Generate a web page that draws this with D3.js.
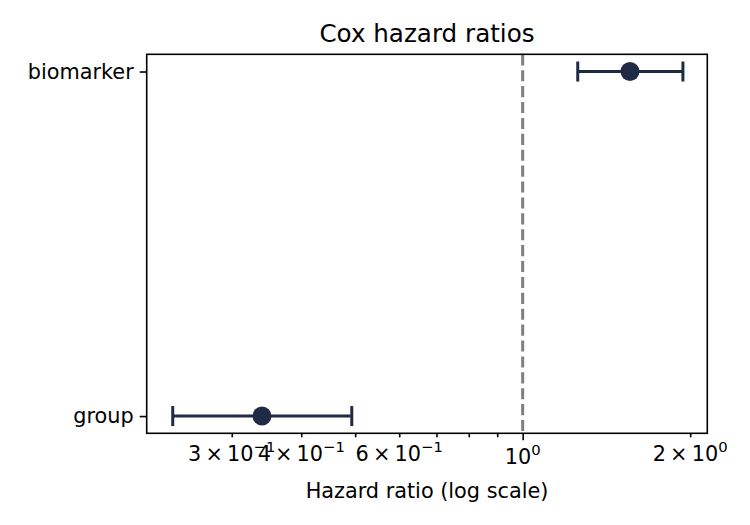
<!DOCTYPE html>
<html>
<head>
<meta charset="utf-8">
<script src="https://cdn.jsdelivr.net/npm/d3@7"></script>
<style>
  body { margin: 0; background: #fff; }
  svg { font-family: "DejaVu Sans", sans-serif; }
</style>
</head>
<body>
<svg id="chart" width="750" height="525"></svg>
<script>
// ---------- data ----------
var categories = ["group", "biomarker"];
var hazardRatio = [0.340, 1.559];
var ciLow = [0.235, 1.256];
var ciHigh = [0.493, 1.941];
var majorTicks = [1];
var minorTicks = [0.3, 0.4, 0.5, 0.6, 0.7, 0.8, 0.9, 2];
var minorLabels = [0.3, 0.4, 0.6, 2];

var rows = categories.map(function(c, i){
    return {name: c, hr: hazardRatio[i], lo: ciLow[i], hi: ciHigh[i]};
});

// ---------- layout ----------
var margin = {top: 54.3, right: 42.7, bottom: 91.7, left: 146.7};
var W = 750, H = 525;
var col = "#1f2a44";
var fs = 20.8;

var svg = d3.select("#chart");
svg.append("rect").attr("width", W).attr("height", H).attr("fill", "#fff");

var x = d3.scaleLog()
    .domain([0.211, 2.147])
    .range([margin.left, W - margin.right]);

// matplotlib-style 5% margins on the category axis
var y = d3.scalePoint()
    .domain(categories)
    .range([H - margin.bottom, margin.top])
    .padding(0.05);

// reference line at HR = 1
svg.append("line")
    .attr("x1", x(1)).attr("x2", x(1))
    .attr("y1", margin.top).attr("y2", H - margin.bottom)
    .attr("stroke", "#7f7f7f")
    .attr("stroke-width", 3)
    .attr("stroke-dasharray", "11.1,4.8");

// error bars
var g = svg.append("g");
rows.forEach(function(d){
    var cy = y(d.name);
    g.append("line")
        .attr("x1", x(d.lo)).attr("x2", x(d.hi))
        .attr("y1", cy).attr("y2", cy)
        .attr("stroke", col).attr("stroke-width", 3);
    [d.lo, d.hi].forEach(function(v){
        g.append("line")
            .attr("x1", x(v)).attr("x2", x(v))
            .attr("y1", cy - 10).attr("y2", cy + 10)
            .attr("stroke", col).attr("stroke-width", 3);
    });
    g.append("circle")
        .attr("cx", x(d.hr)).attr("cy", cy)
        .attr("r", 9.5)
        .attr("fill", col);
});

// ---------- axes ----------
var xMajor = d3.axisBottom(x).tickValues(majorTicks).tickSize(7).tickSizeOuter(0).tickFormat("");
var xMinor = d3.axisBottom(x).tickValues(minorTicks).tickSize(4).tickSizeOuter(0).tickFormat("");

var gxMin = svg.append("g")
    .attr("transform", "translate(0," + (H - margin.bottom) + ")")
    .call(xMinor);
var gxMaj = svg.append("g")
    .attr("transform", "translate(0," + (H - margin.bottom) + ")")
    .call(xMajor);
[gxMin, gxMaj].forEach(function(a){
    a.select(".domain").remove();
    a.selectAll("line").attr("stroke", "#000").attr("stroke-width", 1.6);
});

// tick labels with superscripts
function addLabel(v, yBase){
    var e = Math.floor(Math.log10(v) + 1e-9);
    var m = Math.round(v / Math.pow(10, e));
    var t = svg.append("text")
        .attr("x", x(v))
        .attr("y", yBase)
        .attr("text-anchor", "middle")
        .attr("font-size", fs)
        .attr("fill", "#000");
    t.append("tspan").text(m === 1 ? "10" : m + "\u2009\u00d7\u200910");
    t.append("tspan")
        .attr("dy", -9.5)
        .attr("font-size", 14.8)
        .text(e < 0 ? "\u2212" + (-e) : String(e));
}
majorTicks.forEach(function(v){ addLabel(v, H - margin.bottom + 31); });
minorLabels.forEach(function(v){ addLabel(v, H - margin.bottom + 28); });

var yAxis = d3.axisLeft(y).tickSize(7).tickSizeOuter(0).tickPadding(6);
var gy = svg.append("g")
    .attr("transform", "translate(" + margin.left + ",0)")
    .call(yAxis);
gy.select(".domain").remove();
gy.selectAll("line").attr("stroke", "#000").attr("stroke-width", 1.6);
gy.selectAll("text")
    .attr("font-size", fs)
    .attr("font-family", "DejaVu Sans")
    .attr("fill", "#000")
    .attr("dy", "0.32em");

// frame
svg.append("rect")
    .attr("x", margin.left).attr("y", margin.top)
    .attr("width", W - margin.left - margin.right)
    .attr("height", H - margin.top - margin.bottom)
    .attr("fill", "none")
    .attr("stroke", "#000")
    .attr("stroke-width", 1.6);

// title and axis label
svg.append("text")
    .attr("x", (margin.left + W - margin.right) / 2)
    .attr("y", 41.5)
    .attr("text-anchor", "middle")
    .attr("font-size", 24.6)
    .text("Cox hazard ratios");

svg.append("text")
    .attr("x", (margin.left + W - margin.right) / 2)
    .attr("y", 497.5)
    .attr("text-anchor", "middle")
    .attr("font-size", fs)
    .text("Hazard ratio (log scale)");
</script>
</body>
</html>
